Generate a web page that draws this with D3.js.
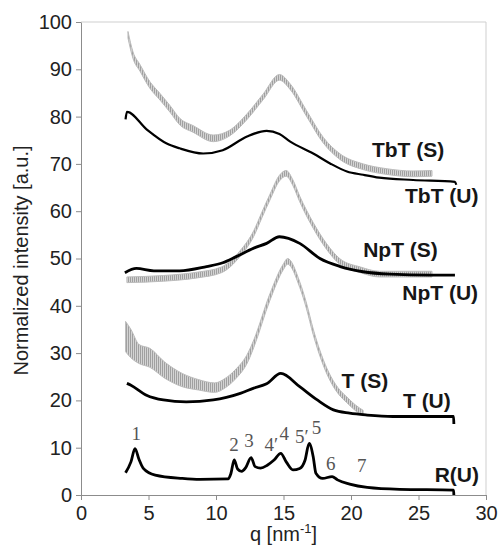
<!doctype html>
<html lang="en">
  <head>
    <meta charset="utf-8">
    <title>scattering profiles</title>
    <style>
        body {
            margin: 0;
            background-color: white;
        }
        .axis text {
            font-family: Arial, "Liberation Sans", sans-serif;
            font-size: 20px;
            fill: #222;
        }
        .axis line, .axis path {
            stroke: #8c8c8c;
        }
        .curveLabel {
            font-family: Arial, "Liberation Sans", sans-serif;
            font-size: 21px;
            font-weight: bold;
            fill: #161616;
        }
        .peakLabel {
            font-family: "Liberation Serif", "Times New Roman", serif;
            font-size: 19px;
            fill: #555;
        }
    </style>
    <script src="https://d3js.org/d3.v7.min.js"></script>
  </head>
  <body>
    <div id="graph"></div>

<script>
// axis ticks
var xTicks = [0, 5, 10, 15, 20, 25, 30];
var yTicks = [0, 10, 20, 30, 40, 50, 60, 70, 80, 90, 100];

// unstretched samples (black): [q, intensity]
var tbtU = [[3.3,79.4],[3.4,81.0],[4.9,77.2],[6.35,74.3],[7.3,73.3],[9.05,72.2],[10.5,72.9],[12.3,75.8],
            [13.75,77.0],[14.7,76.3],[15.5,74.7],[17.2,72.2],[18.45,70.1],[19.7,68.4],[20.9,67.7],
            [22.1,67.1],[24.6,66.6],[27.7,66.2],[27.8,65.6]];
var npU  = [[3.25,47.0],[4.1,47.9],[5.4,47.4],[7.3,47.4],[9.3,48.3],[10.5,49.1],[11.5,50.4],[12.8,52.2],
            [13.75,53.2],[14.7,54.6],[16.2,53.2],[17.7,50.0],[19.2,48.3],[20.9,47.2],[22.9,46.7],[25.9,46.5],[27.7,46.5]];
var tU   = [[3.4,23.6],[3.7,23.2],[4.85,21.1],[6.1,20.1],[7.8,19.7],[9.8,20.1],[11.8,21.5],[12.8,22.6],[13.75,23.5],
            [14.8,25.7],[16.2,22.9],[17.5,20.1],[18.7,18.0],[19.9,17.3],[21.2,16.9],[23.1,16.6],[27.6,16.6],[27.62,15.0]];
var rU   = [[3.3,4.7],[3.7,7.0],[4.0,9.8],[4.3,7.5],[4.6,5.7],[5.5,4.2],[7.5,3.5],[8.8,3.3],[10.9,3.4],[11.1,4.5],
            [11.35,7.4],[11.6,5.5],[11.9,5.0],[12.2,5.8],[12.6,7.9],[12.9,6.0],[13.3,5.7],[13.8,6.3],[14.3,7.4],
            [14.8,8.8],[15.2,7.0],[15.7,5.3],[16.2,5.6],[16.6,7.4],[16.9,10.9],[17.2,8.1],[17.4,4.6],[17.9,3.5],
            [18.6,3.9],[19.0,3.2],[19.9,2.3],[21.2,1.6],[23.6,1.2],[27.6,1.05],[27.62,0.0]];

// stretched samples (grey, noisy): [q, intensity, half spread of the noise]
var tbtS = [[3.48,97.3,0.7],[3.85,93.0,0.7],[4.37,90.3,0.7],[5.1,86.7,0.7],[5.85,84.2,0.7],[6.6,81.6,0.7],
            [7.33,78.9,0.7],[8.3,77.4,0.7],[9.8,75.4,0.7],[11.0,76.5,0.6],[12.3,80.0,0.6],[13.5,84.2,0.6],
            [14.7,88.3,0.6],[15.5,86.3,0.6],[16.7,80.7,0.6],[17.95,75.0,0.6],[19.2,71.5,0.6],[20.9,69.4,0.6],
            [22.6,68.4,0.6],[24.6,67.9,0.6],[26.0,68.0,0.6]];
var npS  = [[3.4,45.5,0.6],[6.1,45.8,0.6],[8.6,46.5,0.6],[10.4,47.6,0.6],[11.8,51.1,0.6],[12.8,55.3,0.6],
            [13.4,59.2,0.6],[14.0,63.0,0.6],[14.7,67.0,0.6],[15.2,68.0,0.6],[15.7,66.0,0.6],[16.2,62.6,0.6],
            [17.2,57.0,0.6],[18.2,52.5,0.6],[19.2,49.3,0.6],[20.7,47.6,0.6],[22.1,46.7,0.6],[26.0,46.7,0.6]];
var tS   = [[3.3,33.5,3.2],[3.7,32.0,3.0],[4.3,29.8,2.0],[5.1,29.0,2.0],[6.2,26.4,1.7],[7.5,24.3,1.4],
            [8.7,23.3,1.1],[9.9,22.7,1.0],[10.7,23.7,1.0],[11.4,25.4,1.0],[12.4,29.3,0.9],[12.8,32.0,0.8],
            [14.0,41.9,0.7],[15.0,48.3,0.6],[15.3,49.4,0.6],[16.2,44.5,0.6],[16.7,40.0,0.6],[17.2,34.5,0.6],
            [17.95,28.0,0.6],[18.5,24.5,0.6],[19.2,21.5,0.6],[19.7,20.1,0.6],[20.3,18.5,0.6],[20.9,17.3,0.6]];

// curve names, anchored at [q, intensity]
var curveLabels = [["TbT (S)",21.55,71.5],["TbT (U)",24.0,61.7],["NpT (S)",20.9,50.3],["NpT (U)",23.8,41.2],
                   ["T (S)",19.3,22.6],["T (U)",23.85,18.4],["R(U)",26.2,2.7]];
// numbered reflections on R(U)
var peakLabels = [["1",4.1,11.6],["2",11.33,9.2],["3",12.44,10.2],["4\u2032",14.1,9.2],["4",15.05,11.6],
                  ["5\u2032",16.35,10.9],["5",17.45,13.0],["6",18.5,5.3],["7",20.8,4.9]];

var svgWidth = 499, svgHeight = 555;
var lMargin = 81, rMargin = 13, tMargin = 22, bMargin = 60;

var svg = d3.select("#graph")
            .append("svg")
            .attr("width", svgWidth)
            .attr("height", svgHeight);

var x = d3.scaleLinear()
            .domain([0, 30])
            .range([lMargin, svgWidth - rMargin]);

var y = d3.scaleLinear()
            .domain([0, 100])
            .range([svgHeight - bMargin, tMargin]);

// light frame on top and right
svg.append("path")
    .attr("d", "M" + x(0) + "," + y(100) + "H" + x(30) + "V" + y(0))
    .attr("fill", "none")
    .attr("stroke", "#cfcfcf");

// hatched grey for the stretched samples
var pat = svg.append("defs").append("pattern")
            .attr("id", "hatch")
            .attr("patternUnits", "userSpaceOnUse")
            .attr("width", 2)
            .attr("height", 2);
pat.append("rect").attr("width", 2).attr("height", 2).attr("fill", "#d4d4d4");
pat.append("rect").attr("width", 1).attr("height", 2).attr("fill", "#a0a0a0");

var band = d3.area()
            .x(function(d) { return x(d[0]); })
            .y0(function(d) { return y(d[1] - d[2]); })
            .y1(function(d) { return y(d[1] + d[2]); })
            .curve(d3.curveMonotoneX);

[tbtS, npS, tS].forEach(function(s) {
    svg.append("path")
        .datum(s)
        .attr("d", band)
        .attr("fill", "url(#hatch)")
        .attr("stroke", "#bcbcbc")
        .attr("stroke-width", 1);
});

var line = d3.line()
            .x(function(d) { return x(d[0]); })
            .y(function(d) { return y(d[1]); })
            .curve(d3.curveMonotoneX);

[[tbtU, 2.2], [npU, 2.8], [tU, 2.8], [rU, 2.8]].forEach(function(s) {
    svg.append("path")
        .datum(s[0])
        .attr("d", line)
        .attr("fill", "none")
        .attr("stroke", "#000")
        .attr("stroke-width", s[1])
        .attr("stroke-linejoin", "round");
});

// axes
var xAxis = d3.axisBottom(x).tickValues(xTicks).tickSize(5).tickSizeOuter(0).tickPadding(6);
svg.append("g")
    .attr("class", "axis")
    .attr("transform", "translate(0," + y(0) + ")")
    .call(xAxis);

var yAxis = d3.axisLeft(y).tickValues(yTicks).tickSize(5).tickSizeOuter(0).tickPadding(4);
svg.append("g")
    .attr("class", "axis")
    .attr("transform", "translate(" + x(0) + ",0)")
    .call(yAxis);

// axis titles
var xTitle = svg.append("text")
            .attr("x", (x(0) + x(30)) / 2)
            .attr("y", 541)
            .attr("text-anchor", "middle")
            .style("font-family", "Arial, 'Liberation Sans', sans-serif")
            .style("font-size", "20px")
            .style("fill", "#222");
xTitle.append("tspan").text("q [nm");
xTitle.append("tspan").text("-1").attr("dy", -8).style("font-size", "13px");
xTitle.append("tspan").text("]").attr("dy", 8);

svg.append("text")
    .attr("transform", "translate(28," + ((y(0) + y(100)) / 2 + 2) + ") rotate(-90)")
    .attr("text-anchor", "middle")
    .style("font-family", "Arial, 'Liberation Sans', sans-serif")
    .style("font-size", "20px")
    .style("fill", "#222")
    .text("Normalized intensity [a.u.]");

svg.selectAll(".curveLabel")
    .data(curveLabels)
    .enter()
    .append("text")
    .attr("class", "curveLabel")
    .attr("x", function(d) { return x(d[1]); })
    .attr("y", function(d) { return y(d[2]); })
    .text(function(d) { return d[0]; });

svg.selectAll(".peakLabel")
    .data(peakLabels)
    .enter()
    .append("text")
    .attr("class", "peakLabel")
    .attr("x", function(d) { return x(d[1]); })
    .attr("y", function(d) { return y(d[2]); })
    .attr("text-anchor", "middle")
    .text(function(d) { return d[0]; });
</script>
  </body>
</html>
